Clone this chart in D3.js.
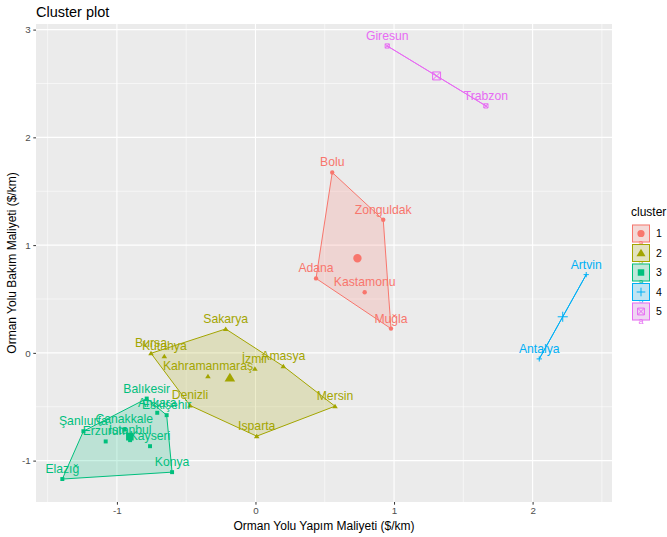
<!DOCTYPE html>
<html>
<head>
<meta charset="utf-8">
<script src="https://cdn.jsdelivr.net/npm/d3@7"></script>
<style>
  body { margin: 0; background: #fff; }
  svg { display: block; font-family: "Liberation Sans", Arial, sans-serif; }
</style>
</head>
<body>
<div id="chart"></div>
<script>
// provinces, their PC coordinates and cluster ids
const cities = ["Bolu","Zonguldak","Adana","Kastamonu","Muğla",
  "Sakarya","Bursa","Kütahya","İzmir","Amasya","Kahramanmaraş","Denizli","Mersin","Isparta",
  "Balıkesir","Ankara","Eskişehir","Şanlıurfa","Çanakkale","Erzurum","İstanbul","Kayseri","Konya","Elazığ",
  "Artvin","Antalya",
  "Giresun","Trabzon"];
const xVals = [0.554,0.922,0.437,0.788,0.978,
  -0.215,-0.754,-0.658,-0.004,0.201,-0.343,-0.473,0.574,0.009,
  -0.785,-0.709,-0.641,-1.242,-0.947,-1.081,-0.905,-0.761,-0.602,-1.394,
  2.387,2.048,
  0.951,1.663];
const yVals = [1.674,1.235,0.691,0.562,0.225,
  0.222,-0.004,-0.032,-0.148,-0.124,-0.217,-0.488,-0.495,-0.773,
  -0.424,-0.556,-0.578,-0.727,-0.711,-0.822,-0.810,-0.866,-1.107,-1.171,
  0.726,-0.056,
  2.848,2.292];
const clusterIds = [1,1,1,1,1, 2,2,2,2,2,2,2,2,2, 3,3,3,3,3,3,3,3,3,3, 4,4, 5,5];

const clusterNames = ["1","2","3","4","5"];
const clusterColors = ["#F8766D","#A3A500","#00BF7D","#00B0F6","#E76BF3"];
const clusterShapes = ["circle","triangle","square","plus","squareX"];

const xTicks = [-1, 0, 1, 2];
const yTicks = [-1, 0, 1, 2, 3];
const xMinor = [-1.5, -0.5, 0.5, 1.5, 2.5];
const yMinor = [-0.5, 0.5, 1.5, 2.5];

const W = 667, H = 537;
const P = { left: 36, right: 612, top: 24, bottom: 502 };

const x = d3.scaleLinear().domain([-1.584, 2.573]).range([P.left, P.right]);
const y = d3.scaleLinear().domain([-1.384, 3.052]).range([P.bottom, P.top]);

const svg = d3.select('#chart').append('svg').attr('width', W).attr('height', H);

// panel + grid
svg.append('rect').attr('x', P.left).attr('y', P.top)
  .attr('width', P.right - P.left).attr('height', P.bottom - P.top).attr('fill', '#EBEBEB');
const grid = svg.append('g').attr('stroke', '#fff');
grid.selectAll('.vmin').data(xMinor).join('line')
  .attr('x1', d => x(d)).attr('x2', d => x(d)).attr('y1', P.top).attr('y2', P.bottom).attr('stroke-width', 0.55);
grid.selectAll('.hmin').data(yMinor).join('line')
  .attr('y1', d => y(d)).attr('y2', d => y(d)).attr('x1', P.left).attr('x2', P.right).attr('stroke-width', 0.55);
grid.selectAll('.vmaj').data(xTicks).join('line')
  .attr('x1', d => x(d)).attr('x2', d => x(d)).attr('y1', P.top).attr('y2', P.bottom).attr('stroke-width', 1.1);
grid.selectAll('.hmaj').data(yTicks).join('line')
  .attr('y1', d => y(d)).attr('y2', d => y(d)).attr('x1', P.left).attr('x2', P.right).attr('stroke-width', 1.1);

// axes
const xAxis = svg.append('g').attr('transform', 'translate(0,' + P.bottom + ')')
  .call(d3.axisBottom(x).tickValues(xTicks).tickSize(2.7).tickPadding(2.5).tickFormat(d3.format('d')));
const yAxis = svg.append('g').attr('transform', 'translate(' + P.left + ',0)')
  .call(d3.axisLeft(y).tickValues(yTicks).tickSize(2.7).tickPadding(2.5).tickFormat(d3.format('d')));
[xAxis, yAxis].forEach(a => {
  a.select('.domain').remove();
  a.selectAll('line').attr('stroke', '#333333');
  a.selectAll('text').attr('fill', '#4D4D4D').style('font-size', '9.8px').style('font-family', 'inherit');
});
xAxis.selectAll('text').text(d => d < 0 ? '-' + Math.abs(d) : d);
yAxis.selectAll('text').text(d => d < 0 ? '-' + Math.abs(d) : d);

// shape path builder (r = half size in px)
function shapePath(shape, cx, cy, r){
  const p = d3.path();
  if(shape === 'circle'){ p.arc(cx, cy, r, 0, 2*Math.PI); }
  else if(shape === 'triangle'){
    const h = r * 1.15;
    p.moveTo(cx, cy - h); p.lineTo(cx + h*1.1, cy + h*0.8); p.lineTo(cx - h*1.1, cy + h*0.8); p.closePath();
  }
  else if(shape === 'square'){ const s = r*0.9; p.rect(cx - s, cy - s, 2*s, 2*s); }
  else if(shape === 'plus'){ const s = r*1.2; p.moveTo(cx - s, cy); p.lineTo(cx + s, cy); p.moveTo(cx, cy - s); p.lineTo(cx, cy + s); }
  else if(shape === 'squareX'){
    const s = r*0.95;
    p.rect(cx - s, cy - s, 2*s, 2*s);
    p.moveTo(cx - s, cy - s); p.lineTo(cx + s, cy + s); p.moveTo(cx + s, cy - s); p.lineTo(cx - s, cy + s);
  }
  return p.toString();
}
function isStroked(shape){ return shape === 'plus' || shape === 'squareX'; }

const points = cities.map((name, i) => ({ name, x: xVals[i], y: yVals[i], c: clusterIds[i] - 1 }));

// hulls
const hullG = svg.append('g');
clusterNames.forEach((nm, c) => {
  const pts = points.filter(p => p.c === c).map(p => [x(p.x), y(p.y)]);
  let poly = pts.length >= 3 ? d3.polygonHull(pts) : pts;
  hullG.append('path')
    .attr('d', 'M' + poly.map(p => p.join(',')).join('L') + 'Z')
    .attr('fill', clusterColors[c]).attr('fill-opacity', 0.2)
    .attr('stroke', clusterColors[c]).attr('stroke-width', 1);
});

// points
const ptG = svg.append('g');
points.forEach(p => {
  const sh = clusterShapes[p.c], col = clusterColors[p.c];
  ptG.append('path').attr('d', shapePath(sh, x(p.x), y(p.y), 2.2))
    .attr('fill', isStroked(sh) ? 'none' : col).attr('stroke', isStroked(sh) ? col : 'none').attr('stroke-width', 1);
});

// cluster centres = mean of members
clusterNames.forEach((nm, c) => {
  const mem = points.filter(p => p.c === c);
  const cx = x(d3.mean(mem, p => p.x)), cy = y(d3.mean(mem, p => p.y));
  const sh = clusterShapes[c], col = clusterColors[c];
  ptG.append('path').attr('d', shapePath(sh, cx, cy, 4.2))
    .attr('fill', isStroked(sh) ? 'none' : col).attr('stroke', isStroked(sh) ? col : 'none').attr('stroke-width', 1);
});

// labels
svg.append('g').selectAll('text').data(points).join('text')
  .attr('x', p => x(p.x)).attr('y', p => y(p.y) - 6)
  .attr('text-anchor', 'middle').attr('fill', p => clusterColors[p.c])
  .style('font-size', '12.2px').text(p => p.name);

// titles
svg.append('text').attr('x', P.left).attr('y', 17).style('font-size', '14.5px').attr('fill', '#000').text('Cluster plot');
svg.append('text').attr('x', (P.left + P.right)/2).attr('y', 530).attr('text-anchor', 'middle')
  .style('font-size', '12px').attr('fill', '#000').text('Orman Yolu Yapım Maliyeti ($/km)');
svg.append('text').attr('transform', 'translate(16,' + ((P.top + P.bottom)/2) + ') rotate(-90)')
  .attr('text-anchor', 'middle').style('font-size', '12px').attr('fill', '#000').text('Orman Yolu Bakım Maliyeti ($/km)');

// legend
const lg = svg.append('g');
lg.append('text').attr('x', 631).attr('y', 216).style('font-size', '12px').attr('fill', '#000').text('cluster');
clusterNames.forEach((nm, c) => {
  const ky = 224.5 + c * 19.5, kx = 632, ks = 18;
  const col = clusterColors[c], sh = clusterShapes[c];
  const g = lg.append('g');
  g.append('rect').attr('x', kx).attr('y', ky).attr('width', ks).attr('height', ks).attr('fill', '#F2F2F2');
  g.append('rect').attr('x', kx + 0.5).attr('y', ky + 0.5).attr('width', ks - 1).attr('height', ks - 1)
    .attr('fill', col).attr('fill-opacity', 0.2).attr('stroke', col).attr('stroke-width', 1);
  g.append('path').attr('d', shapePath(sh, kx + ks/2, ky + ks/2, 3.6))
    .attr('fill', isStroked(sh) ? 'none' : col).attr('stroke', isStroked(sh) ? col : 'none').attr('stroke-width', 1);
  g.append('text').attr('x', kx + ks/2).attr('y', ky + ks + 3.5).attr('text-anchor', 'middle')
    .style('font-size', '9px').attr('fill', col).text('a');
  g.append('text').attr('x', 656).attr('y', ky + ks/2 + 3.8).style('font-size', '10.5px').attr('fill', '#000').text(nm);
});
</script>
</body>
</html>
